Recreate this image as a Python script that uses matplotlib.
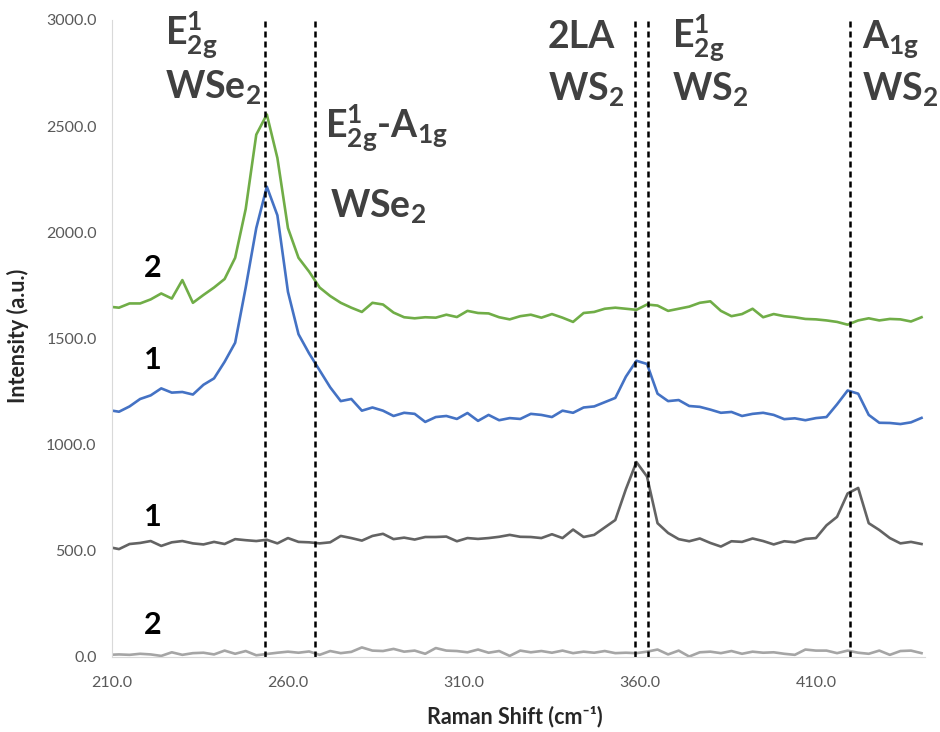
import numpy as np
import matplotlib
matplotlib.use('Agg')
import matplotlib.pyplot as plt

plt.rcParams['font.family'] = ['Lato', 'DejaVu Sans']
plt.rcParams['mathtext.fontset'] = 'custom'
plt.rcParams['mathtext.rm'] = 'Lato:bold'
plt.rcParams['mathtext.default'] = 'rm'

# Raman shift grid (cm-1) and intensities
shift = np.arange(209, 441, 3)

green_2 = [1650, 1645, 1665, 1665, 1684, 1712, 1688, 1775, 1668, 1705, 1740, 1780, 1880, 2110,
           2460, 2555, 2350, 2020, 1880, 1815, 1740, 1700, 1668, 1645, 1625, 1668, 1660, 1622,
           1600, 1595, 1600, 1598, 1612, 1601, 1630, 1620, 1618, 1600, 1590, 1605, 1612, 1598,
           1615, 1598, 1578, 1620, 1625, 1640, 1645, 1640, 1635, 1660, 1655, 1630, 1640, 1650,
           1668, 1675, 1630, 1605, 1615, 1640, 1600, 1615, 1605, 1600, 1592, 1590, 1585, 1578,
           1565, 1585, 1595, 1585, 1592, 1590, 1580, 1600]

blue_1 = [1163, 1155, 1180, 1215, 1232, 1265, 1245, 1248, 1236, 1282, 1312, 1390, 1480, 1740,
          2020, 2215, 2080, 1720, 1520, 1430, 1350, 1270, 1205, 1215, 1160, 1175, 1160, 1135,
          1150, 1145, 1107, 1130, 1135, 1121, 1149, 1112, 1140, 1115, 1125, 1121, 1145, 1140,
          1130, 1160, 1150, 1175, 1180, 1200, 1220, 1320, 1395, 1380, 1240, 1205, 1210, 1182,
          1178, 1165, 1150, 1154, 1135, 1145, 1150, 1140, 1120, 1124, 1115, 1125, 1130, 1190,
          1255, 1240, 1140, 1103, 1102, 1097, 1105, 1126]

dark_1 = [518, 508, 532, 537, 546, 523, 540, 546, 535, 530, 542, 532, 555, 550, 546, 552, 535,
          560, 542, 540, 535, 540, 570, 560, 548, 570, 580, 555, 562, 553, 565, 565, 567, 545,
          560, 556, 560, 566, 575, 566, 565, 560, 578, 560, 600, 565, 575, 610, 645, 790, 918,
          850, 630, 584, 555, 545, 558, 537, 520, 545, 542, 558, 546, 530, 545, 540, 556, 560,
          620, 660, 770, 796, 630, 598, 560, 535, 542, 532]

light_2 = [10, 12, 10, 15, 12, 5, 22, 10, 18, 20, 12, 30, 15, 28, 8, 14, 20, 25, 20, 26, 10, 28,
           18, 24, 45, 30, 28, 38, 25, 30, 15, 42, 30, 28, 22, 35, 20, 28, 5, 30, 22, 28, 20, 30,
           18, 25, 20, 28, 18, 20, 18, 25, 35, 12, 30, 2, 22, 25, 18, 28, 15, 25, 20, 22, 15, 10,
           35, 30, 30, 18, 30, 20, 15, 30, 10, 28, 30, 18]

peak_pos = [253.5, 267.7, 358.7, 362.2, 419.8]

x_ticks = [210, 260, 310, 360, 410]
y_ticks = [0, 500, 1000, 1500, 2000, 2500, 3000]

fig = plt.figure(figsize=(9.4, 7.32), dpi=100)
ax = fig.add_axes([0.1191, 0.1025, 0.865, 0.8702])

ax.plot(shift, green_2, color='#70AD47', lw=1.9)
ax.plot(shift, blue_1, color='#4472C4', lw=1.9)
ax.plot(shift, dark_1, color='#636363', lw=1.9)
ax.plot(shift, light_2, color='#A5A5A5', lw=1.9)

for p in peak_pos:
    ax.axvline(p, color='black', lw=1.8, ls=(0, (2.4, 1.6)))

ax.set_xlim(210, 441)
ax.set_ylim(0, 3000)
ax.set_xticks(x_ticks)
ax.set_xticklabels([f'{v:.1f}' for v in x_ticks])
ax.set_yticks(y_ticks)
ax.set_yticklabels([f'{v:.1f}' for v in y_ticks])
ax.tick_params(length=0, colors='#595959', labelsize=11.5)
ax.tick_params(axis='x', pad=14)
ax.tick_params(axis='y', pad=11)
for s in ['top', 'right']:
    ax.spines[s].set_visible(False)
ax.spines['left'].set_color('#D9D9D9')
ax.spines['bottom'].set_color('#D9D9D9')

# peak annotations
tc = '#404040'
fs = 27
ann = [
    (225.1, 2883, r'E$^{1}_{2g}$'), (225.1, 2633, r'WSe$_{2}$'),
    (270.5, 2445, r'E$^{1}_{2g}$-A$_{1g}$'), (271.9, 2070, r'WSe$_{2}$'),
    (333.9, 2869, '2LA'), (333.9, 2624, r'WS$_{2}$'),
    (369.1, 2869, r'E$^{1}_{2g}$'), (369.1, 2624, r'WS$_{2}$'),
    (423.1, 2869, r'A$_{1g}$'), (423.1, 2624, r'WS$_{2}$'),
]
for x, y, t in ann:
    ax.text(x, y, t, fontsize=fs, color=tc, fontweight='bold',
            ha='left', va='baseline', clip_on=False)

# sample numbers
for y, t in [(1832, '2'), (1399, '1'), (659, '1'), (151, '2')]:
    ax.text(221.6, y, t, fontsize=22, fontweight='bold', color='black',
            ha='center', va='center')

fig.text(515 / 940, 1 - 717 / 732, 'Raman Shift (cm⁻¹)', ha='center', va='center',
         fontsize=15.5, fontweight='bold', color='#262626')
fig.text(18 / 940, 1 - 336 / 732, 'Intensity (a.u.)', ha='center', va='center',
         rotation=90, fontsize=15.5, fontweight='bold', color='#262626')

fig.savefig('out.png', dpi=100)
